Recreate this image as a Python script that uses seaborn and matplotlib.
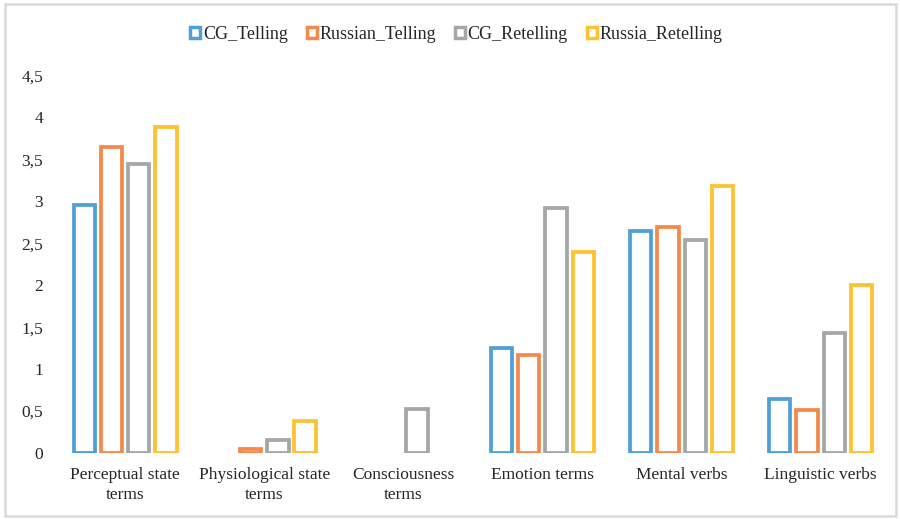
import matplotlib
matplotlib.use("Agg")
import matplotlib.pyplot as plt
import seaborn as sns
import pandas as pd
from matplotlib.patches import Patch, Rectangle

categories = ["Perceptual state\nterms", "Physiological state\nterms", "Consciousness\nterms",
              "Emotion terms", "Mental verbs", "Linguistic verbs"]
series_names = ["CG_Telling", "Russian_Telling", "CG_Retelling", "Russia_Retelling"]
cg_telling = [2.95, 0.0, 0.0, 1.25, 2.65, 0.64]
russian_telling = [3.65, 0.05, 0.0, 1.17, 2.69, 0.51]
cg_retelling = [3.44, 0.15, 0.52, 2.92, 2.54, 1.43]
russia_retelling = [3.88, 0.38, 0.0, 2.39, 3.18, 2.00]
colors = ["#4F9FD9", "#F4894B", "#A3A7A8", "#FFC12F"]
yticks = [0, 0.5, 1, 1.5, 2, 2.5, 3, 3.5, 4, 4.5]
ytick_labels = ["0", "0,5", "1", "1,5", "2", "2,5", "3", "3,5", "4", "4,5"]

rows = []
for name, vals in zip(series_names, [cg_telling, russian_telling, cg_retelling, russia_retelling]):
    for c, v in zip(categories, vals):
        rows.append({"category": c, "series": name, "value": v})
df = pd.DataFrame(rows)

sns.set_theme(style="white")
plt.rcParams["font.family"] = ["Liberation Serif", "DejaVu Serif"]

fig = plt.figure(figsize=(9, 5.19), dpi=100)
ax = fig.add_axes([0.062, 0.127, 0.927, 0.728])

sns.barplot(data=df, x="category", y="value", hue="series", order=categories,
            hue_order=series_names, palette=colors, ax=ax, width=0.78, gap=0.22,
            legend=False, errorbar=None)

for patch, col in zip(ax.patches, [c for c in colors for _ in categories]):
    patch.set_facecolor("white")
    patch.set_edgecolor(col)
    patch.set_linewidth(2.7)
    patch.set_joinstyle("miter")
    if patch.get_height() == 0:
        patch.set_visible(False)

ax.set_ylim(0, 4.5)
ax.set_yticks(yticks)
ax.set_yticklabels(ytick_labels, fontsize=12.5)
ax.set_xticks(range(len(categories)))
ax.set_xticklabels(categories, fontsize=12.5, linespacing=1.35)
ax.tick_params(axis="x", length=0, pad=10)
ax.tick_params(axis="y", length=0, pad=9)
ax.set_xlabel("")
ax.set_ylabel("")
for s in ax.spines.values():
    s.set_visible(False)
ax.grid(False)

handles = [Patch(facecolor="white", edgecolor=c, linewidth=2.5) for c in colors]
fig.legend(handles, series_names, loc="center", bbox_to_anchor=(0.507, 0.933), ncol=4,
           frameon=False, fontsize=13, handlelength=0.55, handleheight=0.55,
           handletextpad=0.15, columnspacing=1.05)

fig.patches.append(Rectangle((0.005, 0.005), 0.99, 0.988, transform=fig.transFigure,
                             fill=False, edgecolor="#D9D9D9", linewidth=1.8))

fig.savefig("out.png", dpi=100)
